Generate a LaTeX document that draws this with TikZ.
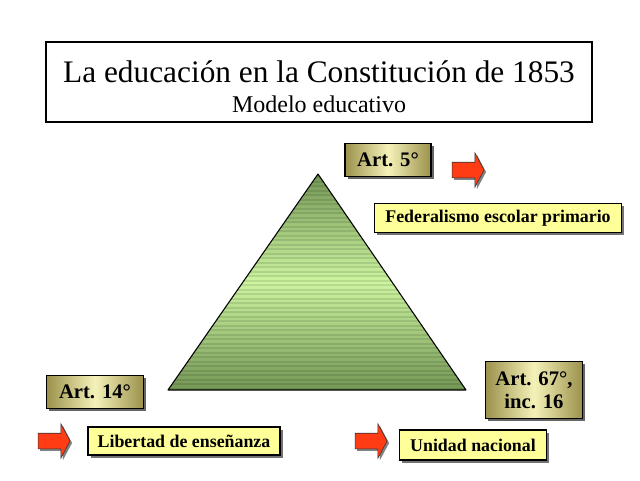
\documentclass[tikz,border=0pt]{standalone}
\usepackage{fontspec}
\setmainfont{Liberation Serif}
\usetikzlibrary{shapes.arrows, shadows, positioning}
\definecolor{artolive}{RGB}{155,145,75}
\definecolor{artlight}{RGB}{245,242,185}
\definecolor{notepale}{RGB}{255,255,153}
\definecolor{arrowred}{RGB}{255,60,20}
\definecolor{pyrdark}{RGB}{115,150,85}
\definecolor{pyrlight}{RGB}{205,245,160}

\begin{document}
\begin{tikzpicture}[x=0.75pt, y=-0.75pt,
    artbox/.style={draw, thick, left color=artolive, right color=artolive, middle color=artlight,
        font=\fontsize{15.5}{17.5}\selectfont\bfseries, align=center, inner sep=2pt,
        drop shadow={shadow xshift=2pt, shadow yshift=-2pt, fill=black!60, opacity=1}},
    notebox/.style={draw, thick, fill=notepale, font=\fontsize{13.4}{15}\selectfont\bfseries,
        inner sep=2pt, drop shadow={shadow xshift=2pt, shadow yshift=-2pt, fill=black!55, opacity=1}},
    redarrow/.style={single arrow, draw=black!80, fill=arrowred, minimum height=24pt,
        inner sep=0pt, text height=11.25pt, text depth=0pt, text width=1pt,
        single arrow head extend=7.1pt, single arrow tip angle=124,
        drop shadow={shadow xshift=1.5pt, shadow yshift=-1.5pt, fill=black!50, opacity=1}}]
    \useasboundingbox (0,0) rectangle (640,480);

    % Title
    \node (titlebox) [draw, thick, minimum width=409.5pt, minimum height=60pt] at (319,82) {};
    \node (title) [font=\fontsize{23.5}{26}\selectfont] at (319,72) {La educación en la Constitución de 1853};
    \node (subtitle) [font=\fontsize{18}{21}\selectfont] at (319,104) {Modelo educativo};

    % Pyramid
    \coordinate (top) at (318,174);
    \coordinate (left) at (168,390);
    \coordinate (right) at (466,390);
    \shade[top color=pyrdark, bottom color=pyrdark, middle color=pyrlight] (top) -- (left) -- (right) -- cycle;
    \begin{scope}
        \clip (top) -- (left) -- (right) -- cycle;
        \foreach \y in {176,180.5,...,390}
            \fill[black, opacity=0.1] (160,\y) rectangle (470,\y+2);
    \end{scope}
    \draw[thick, line join=round] (top) -- (left) -- (right) -- cycle;

    % Articles
    \node (art5) [artbox, minimum width=64.5pt, minimum height=24.75pt] at (388,160) {Art. 5°};
    \node (art14) [artbox, minimum width=73pt, minimum height=25pt] at (95,392) {Art. 14°};
    \node (art67) [artbox, minimum width=73pt, minimum height=43pt] at (534,390) {Art. 67°,\\inc. 16};

    % Arrows
    \node (arr5) [redarrow] at (466,170) {};
    \node (arr14) [redarrow] at (52,441) {};
    \node (arr67) [redarrow] at (369,441) {};

    % Principles
    \node (fed) [notebox, minimum width=185pt, minimum height=22pt] at (498,218) {Federalismo escolar primario};
    \node (lib) [notebox, minimum width=144pt, minimum height=21pt] at (184,441) {Libertad de enseñanza};
    \node (uni) [notebox, minimum width=110pt, minimum height=22.5pt] at (473,445) {Unidad nacional};
\end{tikzpicture}
\end{document}
